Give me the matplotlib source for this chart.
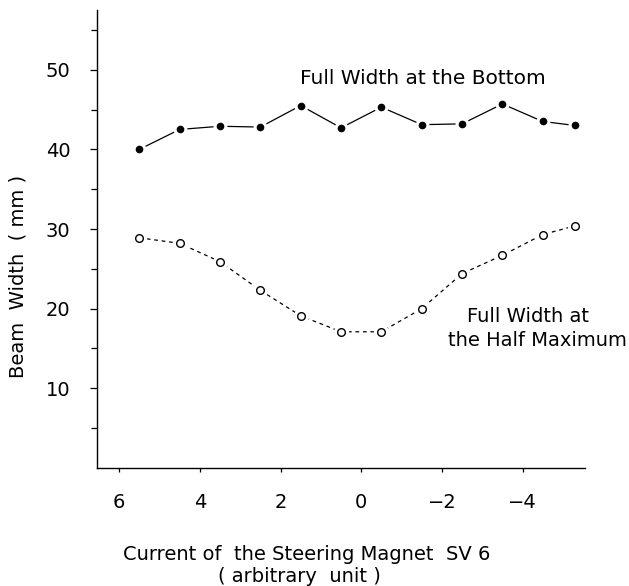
import matplotlib
matplotlib.use("Agg")
import matplotlib.pyplot as plt

# steering magnet current (arbitrary unit)
current = [5.5, 4.5, 3.5, 2.5, 1.5, 0.5, -0.5, -1.5, -2.5, -3.5, -4.5, -5.3]
# full width at the bottom (mm)
fw_bottom = [40.0, 42.5, 42.9, 42.8, 45.5, 42.7, 45.3, 43.1, 43.2, 45.7, 43.5, 43.0]
# full width at the half maximum (mm)
fw_half = [28.9, 28.2, 25.9, 22.3, 19.1, 17.1, 17.1, 20.0, 24.4, 26.7, 29.3, 30.4]

yticks = [10, 20, 30, 40, 50]
ytick_labels = ["10", "20", "30", "40", "50"]
xticks = [6, 4, 2, 0, -2, -4]
xtick_labels = ["6", "4", "2", "0", "\u22122", "\u22124"]

plt.rcParams['font.family'] = ['DejaVu Sans']

fig = plt.figure(figsize=(6.29, 5.86), dpi=100)
ax = fig.add_axes([0.1542, 0.2014, 0.776, 0.7816])

# upper curve: solid line, filled dots, small white gap around each dot
ax.plot(current, fw_bottom, color='black', lw=0.9, zorder=1)
ax.plot(current, fw_bottom, 'o', ms=9, color='white', zorder=2)
ax.plot(current, fw_bottom, 'o', ms=4.5, color='black', zorder=3)

# lower curve: dashed line, open circles
ax.plot(current, fw_half, color='black', lw=0.9, ls=(0, (3, 3)), zorder=1)
ax.plot(current, fw_half, 'o', ms=10, color='white', zorder=2)
ax.plot(current, fw_half, 'o', ms=5.5, mfc='white', mec='black', mew=1.0, zorder=3)

ax.set_xlim(6.55, -5.55)
ax.set_ylim(0, 57.5)

ax.spines['top'].set_visible(False)
ax.spines['right'].set_visible(False)
ax.spines['left'].set_linewidth(1.0)
ax.spines['bottom'].set_linewidth(1.0)

ax.set_yticks(yticks)
ax.set_yticklabels(ytick_labels, fontsize=14)
ax.set_yticks([5, 15, 25, 35, 45, 55], minor=True)
ax.tick_params(axis='y', which='major', direction='out', length=5, width=0.9, pad=14)
ax.tick_params(axis='y', which='minor', direction='out', length=4, width=0.9)

ax.set_xticks(xticks)
ax.set_xticklabels(xtick_labels, fontsize=14)
ax.tick_params(axis='x', which='major', direction='out', length=3, width=0.9, pad=15)

ax.text(1.52, 48.9, "Full Width at the Bottom", fontsize=14.5, ha='left', va='center')

fig.text(0.839, 1 - 316 / 586, "Full Width at", fontsize=14, ha='center', va='center')
fig.text(0.854, 1 - 341 / 586, "the Half Maximum", fontsize=14, ha='center', va='center')

fig.text(0.029, 0.529, "Beam  Width  ( mm )", fontsize=14,
         rotation=90, ha='center', va='center')
fig.text(0.487, 1 - 554 / 586, "Current of  the Steering Magnet  SV 6", fontsize=14,
         ha='center', va='center')
fig.text(0.476, 1 - 577 / 586, "( arbitrary  unit )", fontsize=14,
         ha='center', va='center')

fig.savefig("out.png", dpi=100)
